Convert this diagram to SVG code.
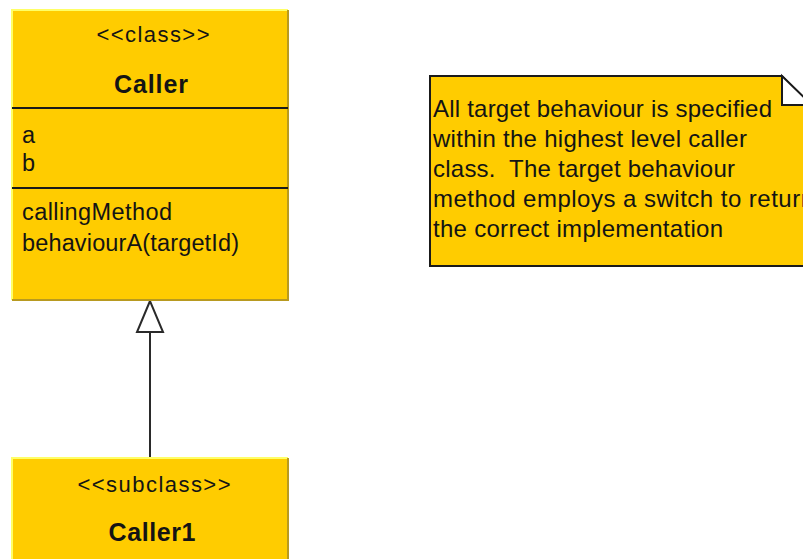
<svg xmlns="http://www.w3.org/2000/svg" width="803" height="559" viewBox="0 0 803 559">
  <style>
    .box { fill: #FFCC00; }
    .hi { stroke: #FFFF66; stroke-width: 2; fill: none; }
    .lo { stroke: #B89A20; stroke-width: 2; fill: none; }
    .sep { stroke: #1A1A1A; stroke-width: 2; }
    .t { font-family: "Liberation Sans", Arial, sans-serif; fill: #141414; }
    .st { font-size: 22px; text-anchor: middle; }
    .nm { font-size: 25px; font-weight: bold; text-anchor: middle; }
    .mb { font-size: 23.5px; }
    .nt { font-size: 24px; white-space: pre; }
    .edge { stroke: #2A2A2A; stroke-width: 2; fill: none; }
    .head { stroke: #2A2A2A; stroke-width: 2; fill: #FFFFFF; stroke-linejoin: miter; }
  </style>

  <rect width="803" height="559" fill="#FFFFFF"/>

  <!-- connectors -->
  <g id="connectors">
    <line class="edge" x1="150" y1="458" x2="150" y2="332"/>
    <polygon class="head" points="150,301 137,332 163,332"/>
  </g>

  <!-- Caller class -->
  <g id="caller">
    <rect class="box" x="12" y="10" width="276" height="290"/>
    <polyline class="hi" points="12,300 12,10 288,10"/>
    <polyline class="lo" points="288,10 288,300 12,300"/>
    <text class="t st" x="153" y="42" textLength="113">&lt;&lt;class&gt;&gt;</text>
    <text class="t nm" x="151" y="93" textLength="74">Caller</text>
    <line class="sep" x1="12" y1="108" x2="288" y2="108"/>
    <text class="t mb" x="22" y="143">a</text>
    <text class="t mb" x="22" y="171">b</text>
    <line class="sep" x1="12" y1="188" x2="288" y2="188"/>
    <text class="t mb" x="22" y="220" textLength="150">callingMethod</text>
    <text class="t mb" x="22" y="251" textLength="217">behaviourA(targetId)</text>
  </g>

  <!-- Caller1 subclass -->
  <g id="caller1">
    <rect class="box" x="12" y="458" width="276" height="110"/>
    <polyline class="hi" points="12,568 12,458 288,458"/>
    <line class="lo" x1="288" y1="458" x2="288" y2="568"/>
    <text class="t st" x="154" y="492" textLength="153">&lt;&lt;subclass&gt;&gt;</text>
    <text class="t nm" x="152" y="541" textLength="87">Caller1</text>
  </g>

  <!-- note -->
  <g id="note">
    <path d="M430,76 H782 L812,106 V266 H430 Z" fill="#FFCC00" stroke="#1A1A1A" stroke-width="2"/>
    <path d="M782,76 V105 H812 Z" fill="#FFFFFF" stroke="#1A1A1A" stroke-width="2" stroke-linejoin="miter"/>
    <text class="t nt" x="433" y="117" textLength="339">All target behaviour is specified</text>
    <text class="t nt" x="433" y="147" textLength="314">within the highest level caller</text>
    <text class="t nt" x="433" y="177" textLength="302">class.  The target behaviour</text>
    <text class="t nt" x="433" y="207" textLength="381">method employs a switch to return</text>
    <text class="t nt" x="433" y="237" textLength="290">the correct implementation</text>
  </g>
</svg>
